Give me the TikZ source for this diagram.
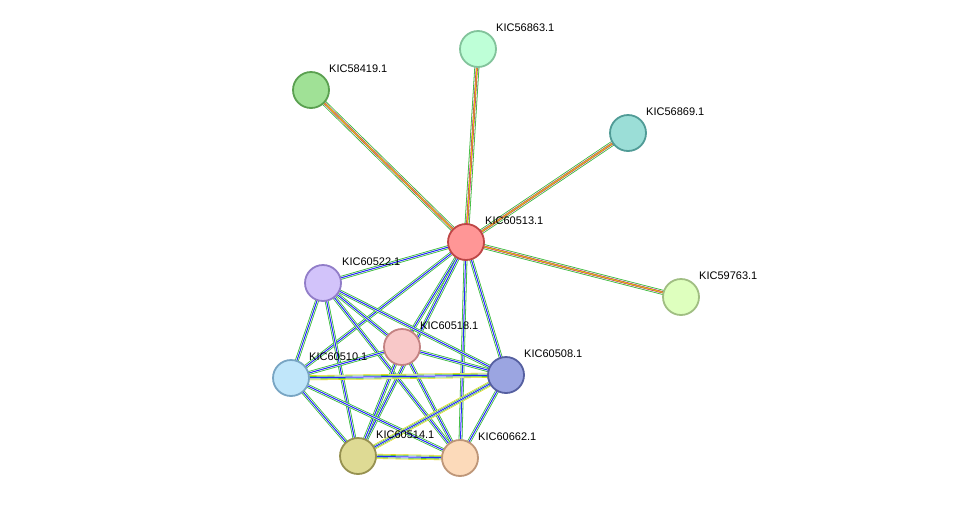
\documentclass[tikz,border=0pt]{standalone}
\usepackage{fontspec}
\setmainfont{Liberation Sans}
\usetikzlibrary{calc}
\begin{document}
\begin{tikzpicture}[x=1pt,y=-1pt,
  prot/.style={circle,minimum size=36pt,line width=1.8pt,inner sep=0pt},
  lab/.style={font=\fontsize{11}{13}\selectfont,anchor=west,inner sep=1pt},
]
\useasboundingbox (0,0) rectangle (976,504);
\newcommand{\spoke}[2]{%
  \draw[line width=5pt,green!65!black!80] (#1) -- (#2);
  \draw[line width=3.4pt,white] (#1) -- (#2);
  \draw[line width=2.2pt,magenta!80!black] (#1) -- (#2);
  \draw[line width=1pt,yellow!70!olive] (#1) -- (#2);}
\newcommand{\gblue}[2]{%
  \draw[line width=3.8pt,green!65!black!80] (#1) -- (#2);
  \draw[line width=2.2pt,white] (#1) -- (#2);
  \draw[line width=1pt,blue!85] (#1) -- (#2);}
\newcommand{\gby}[2]{%
  \draw[line width=5pt,yellow!70!olive] (#1) -- (#2);
  \draw[line width=3.8pt,white] (#1) -- (#2);
  \draw[line width=3pt,green!65!black!80] (#1) -- (#2);
  \draw[line width=1.8pt,white] (#1) -- (#2);
  \draw[line width=1pt,blue!85] (#1) -- (#2);}
\coordinate (c13) at (466,242);
\coordinate (c63) at (478,49);
\coordinate (c19) at (311,90);
\coordinate (c69) at (628,133);
\coordinate (c59) at (681,297);
\coordinate (c22) at (323,283);
\coordinate (c18) at (402,347);
\coordinate (c10) at (291,378);
\coordinate (c08) at (506,375);
\coordinate (c14) at (358,456);
\coordinate (c62) at (460,458);
\spoke{c13}{c63}\spoke{c13}{c19}\spoke{c13}{c69}\spoke{c13}{c59}
\gblue{c13}{c22}\gblue{c13}{c18}\gblue{c13}{c10}\gblue{c13}{c08}\gblue{c13}{c14}\gblue{c13}{c62}
\gblue{c22}{c18}\gblue{c22}{c10}\gblue{c22}{c08}\gblue{c22}{c14}\gblue{c22}{c62}
\gblue{c18}{c10}\gblue{c18}{c08}\gblue{c18}{c14}\gblue{c18}{c62}
\gby{c10}{c08}\gblue{c10}{c14}\gblue{c10}{c62}
\gby{c08}{c14}\gblue{c08}{c62}\gby{c14}{c62}
\node[prot,fill={rgb,255:red,255;green,150;blue,150},draw={rgb,255:red,190;green,70;blue,70}] (n13) at (c13) {};
\node[prot,fill={rgb,255:red,190;green,255;blue,215},draw={rgb,255:red,130;green,195;blue,155}] (n63) at (c63) {};
\node[prot,fill={rgb,255:red,160;green,225;blue,150},draw={rgb,255:red,90;green,160;blue,80}] (n19) at (c19) {};
\node[prot,fill={rgb,255:red,155;green,222;blue,215},draw={rgb,255:red,80;green,155;blue,150}] (n69) at (c69) {};
\node[prot,fill={rgb,255:red,222;green,255;blue,190},draw={rgb,255:red,160;green,190;blue,130}] (n59) at (c59) {};
\node[prot,fill={rgb,255:red,210;green,195;blue,250},draw={rgb,255:red,145;green,125;blue,200}] (n22) at (c22) {};
\node[prot,fill={rgb,255:red,248;green,200;blue,200},draw={rgb,255:red,195;green,130;blue,130}] (n18) at (c18) {};
\node[prot,fill={rgb,255:red,192;green,230;blue,250},draw={rgb,255:red,120;green,165;blue,195}] (n10) at (c10) {};
\node[prot,fill={rgb,255:red,155;green,165;blue,225},draw={rgb,255:red,85;green,95;blue,160}] (n08) at (c08) {};
\node[prot,fill={rgb,255:red,222;green,218;blue,148},draw={rgb,255:red,150;green,145;blue,80}] (n14) at (c14) {};
\node[prot,fill={rgb,255:red,252;green,218;blue,186},draw={rgb,255:red,190;green,150;blue,120}] (n62) at (c62) {};
\node[lab] at ($(c13)+(18,-21)$) {KIC60513.1};
\node[lab] at ($(c63)+(17,-21)$) {KIC56863.1};
\node[lab] at ($(c19)+(17,-21)$) {KIC58419.1};
\node[lab] at ($(c69)+(17,-21)$) {KIC56869.1};
\node[lab] at ($(c59)+(17,-21)$) {KIC59763.1};
\node[lab] at ($(c22)+(18,-21)$) {KIC60522.1};
\node[lab] at ($(c18)+(17,-21)$) {KIC60518.1};
\node[lab] at ($(c10)+(17,-21)$) {KIC60510.1};
\node[lab] at ($(c08)+(17,-21)$) {KIC60508.1};
\node[lab] at ($(c14)+(17,-21)$) {KIC60514.1};
\node[lab] at ($(c62)+(17,-21)$) {KIC60662.1};
\end{tikzpicture}
\end{document}
